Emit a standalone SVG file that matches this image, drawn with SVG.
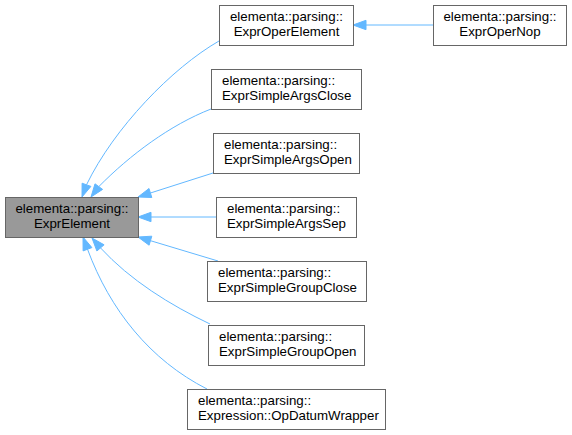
<svg xmlns="http://www.w3.org/2000/svg" width="572" height="435" viewBox="0 0 572 435">
<defs>
<style>
.box{fill:#ffffff;stroke:#666666;stroke-width:1}
.root{fill:#999999;stroke:#666666;stroke-width:1}
text{font-family:"Liberation Sans",Arial,sans-serif;font-size:13.3px;fill:#000000}
.mid{text-anchor:middle}
.edge{fill:none;stroke:#63b8ff;stroke-width:1}
.head{fill:#63b8ff;stroke:#63b8ff;stroke-width:1}
</style>
</defs>
<rect width="572" height="435" fill="#ffffff"/>
<g id="connectors">
<path class="edge" d="M433,25 L366,25"/>
<polygon class="head" points="366,20.3 353,25 366,29.7"/>
<path class="edge" d="M219,41 C172,68 114,128 86.5,184.8"/>
<polygon class="head" points="90.9,186.4 82,197 82.1,183.2"/>
<path class="edge" d="M211,109 C170,125 130,155 98.8,186.6"/>
<polygon class="head" points="102.6,189.4 91,197 95,183.8"/>
<path class="edge" d="M213,173 L150.4,193"/>
<polygon class="head" points="151.8,197.5 138,197 149,188.5"/>
<path class="edge" d="M216,217 L151,217"/>
<polygon class="head" points="151,212.3 138,217 151,221.7"/>
<path class="edge" d="M218,261 L150.5,240.7"/>
<polygon class="head" points="149.1,245.2 138,237 151.8,236.2"/>
<path class="edge" d="M210,324 C170,305 130,280 100.5,247.9"/>
<polygon class="head" points="96.9,251 92,238 104.1,244.8"/>
<path class="edge" d="M207,389 C150,360 110,310 87.5,249.2"/>
<polygon class="head" points="83.1,250.9 83,237 91.9,247.6"/>
</g>
<g id="ExprElement">
<rect class="root" x="5.5" y="197.5" width="133" height="40"/>
<text class="mid" x="72" y="212.5">elementa::parsing::</text>
<text class="mid" x="72" y="228">ExprElement</text>
</g>
<g id="ExprOperElement">
<rect class="box" x="219.5" y="5.5" width="134" height="40"/>
<text class="mid" x="286.5" y="20.5">elementa::parsing::</text>
<text class="mid" x="286.5" y="36">ExprOperElement</text>
</g>
<g id="ExprOperNop">
<rect class="box" x="433.5" y="5.5" width="133" height="40"/>
<text class="mid" x="500" y="20.5">elementa::parsing::</text>
<text class="mid" x="500" y="36">ExprOperNop</text>
</g>
<g id="ExprSimpleArgsClose">
<rect class="box" x="211.5" y="69.5" width="150" height="40"/>
<text x="222" y="84.5">elementa::parsing::</text>
<text x="222" y="100">ExprSimpleArgsClose</text>
</g>
<g id="ExprSimpleArgsOpen">
<rect class="box" x="213.5" y="133.5" width="146" height="40"/>
<text x="224" y="148.5">elementa::parsing::</text>
<text x="224" y="164">ExprSimpleArgsOpen</text>
</g>
<g id="ExprSimpleArgsSep">
<rect class="box" x="216.5" y="197.5" width="140" height="40"/>
<text x="227" y="212.5">elementa::parsing::</text>
<text x="227" y="228">ExprSimpleArgsSep</text>
</g>
<g id="ExprSimpleGroupClose">
<rect class="box" x="207.5" y="261.5" width="159" height="40"/>
<text x="218" y="276.5">elementa::parsing::</text>
<text x="218" y="292">ExprSimpleGroupClose</text>
</g>
<g id="ExprSimpleGroupOpen">
<rect class="box" x="208.5" y="325.5" width="156" height="40"/>
<text x="219" y="340.5">elementa::parsing::</text>
<text x="219" y="356">ExprSimpleGroupOpen</text>
</g>
<g id="OpDatumWrapper">
<rect class="box" x="187.5" y="389.5" width="198" height="40"/>
<text x="198" y="404.5">elementa::parsing::</text>
<text x="198" y="420">Expression::OpDatumWrapper</text>
</g>
</svg>
